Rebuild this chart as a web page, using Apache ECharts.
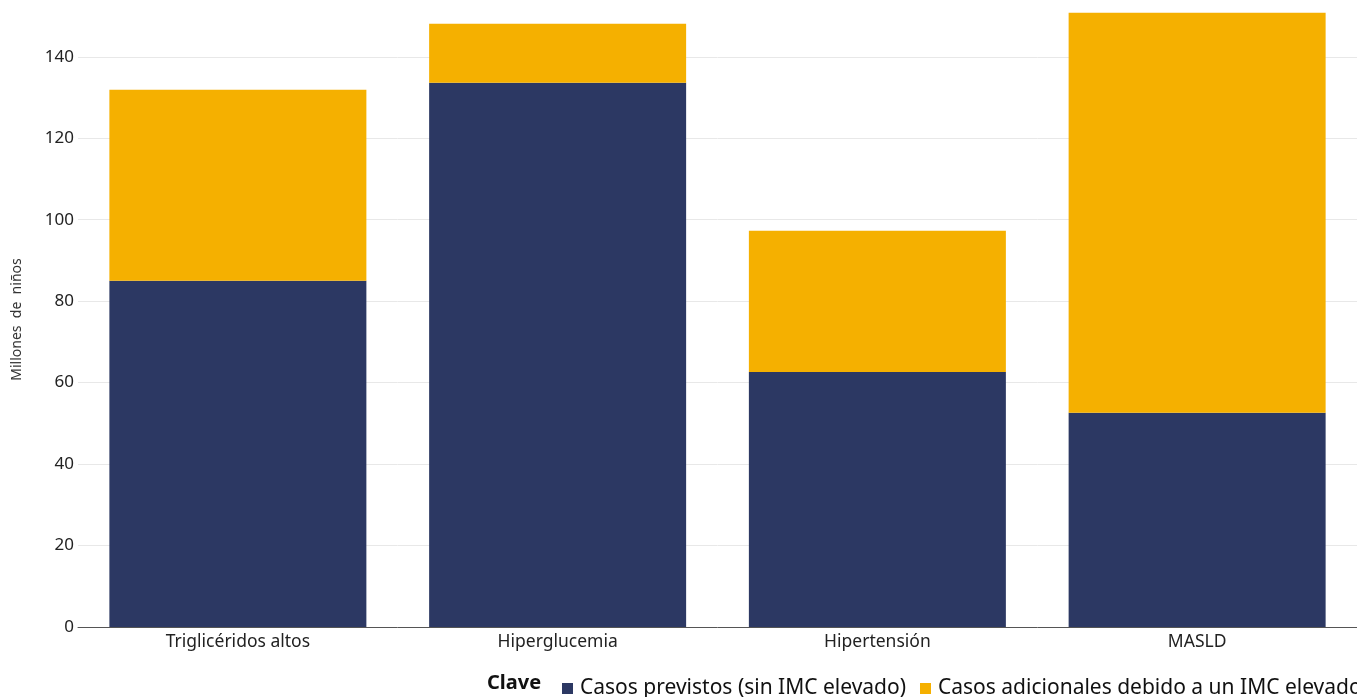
<!DOCTYPE html>
<html><head><meta charset="utf-8">
<script src="https://cdn.jsdelivr.net/npm/echarts@6/dist/echarts.min.js"></script>
<style>html,body{margin:0;padding:0;background:#fff}#c{width:1357px;height:697px}</style>
</head><body><div id="c"></div>
<script>
const categories = ["Triglicéridos altos", "Hiperglucemia", "Hipertensión", "MASLD"];
const seriesNames = ["Casos previstos (sin IMC elevado)", "Casos adicionales debido a un IMC elevado"];
const baseCases = [85.0, 133.6, 62.6, 52.6];
const extraCases = [46.9, 14.5, 34.7, 98.2];
const colors = ["#2c3863", "#f5b000"];
const FONT = "Noto Sans";

const legendText = {color: '#111', fontSize: 21, fontFamily: FONT, padding: [0,0,0,2]};
const chart = echarts.init(document.getElementById('c'), null, {renderer: 'canvas'});
chart.setOption({
  animation: false,
  textStyle: {fontFamily: FONT},
  grid: {left: 78, right: 0, top: 12, bottom: 70, containLabel: false},
  xAxis: {
    type: 'category', data: categories,
    axisLine: {lineStyle: {color: '#555', width: 1}},
    axisTick: {show: false},
    axisLabel: {color: '#222', fontSize: 17.5, fontFamily: FONT, margin: 6}
  },
  yAxis: {
    type: 'value', min: 0, max: 151, interval: 20,
    name: 'Millones  de  niños', nameLocation: 'middle', nameGap: 54,
    nameTextStyle: {color: '#333', fontSize: 14, fontFamily: FONT},
    axisLine: {show: false}, axisTick: {show: false},
    axisLabel: {color: '#222', fontSize: 17, fontFamily: FONT, margin: 4, showMaxLabel: false},
    splitLine: {lineStyle: {color: '#e8e8e8'}, showMaxLine: false}
  },
  legend: [
    {left: 562, top: 678, padding: 0, itemWidth: 11, itemHeight: 11, icon: 'rect', textStyle: legendText, data: [seriesNames[0]]},
    {left: 920, top: 678, padding: 0, itemWidth: 11, itemHeight: 11, icon: 'rect', textStyle: legendText, data: [seriesNames[1]]}
  ],
  graphic: [{type: 'text', left: 487, top: 673, style: {text: 'Clave', font: 'bold 20px ' + FONT, fill: '#111'}}],
  series: [
    {name: seriesNames[0], type: 'bar', stack: 's', data: baseCases, itemStyle: {color: colors[0]}, barWidth: 257},
    {name: seriesNames[1], type: 'bar', stack: 's', data: extraCases, itemStyle: {color: colors[1]}, barWidth: 257}
  ]
});
</script></body></html>
